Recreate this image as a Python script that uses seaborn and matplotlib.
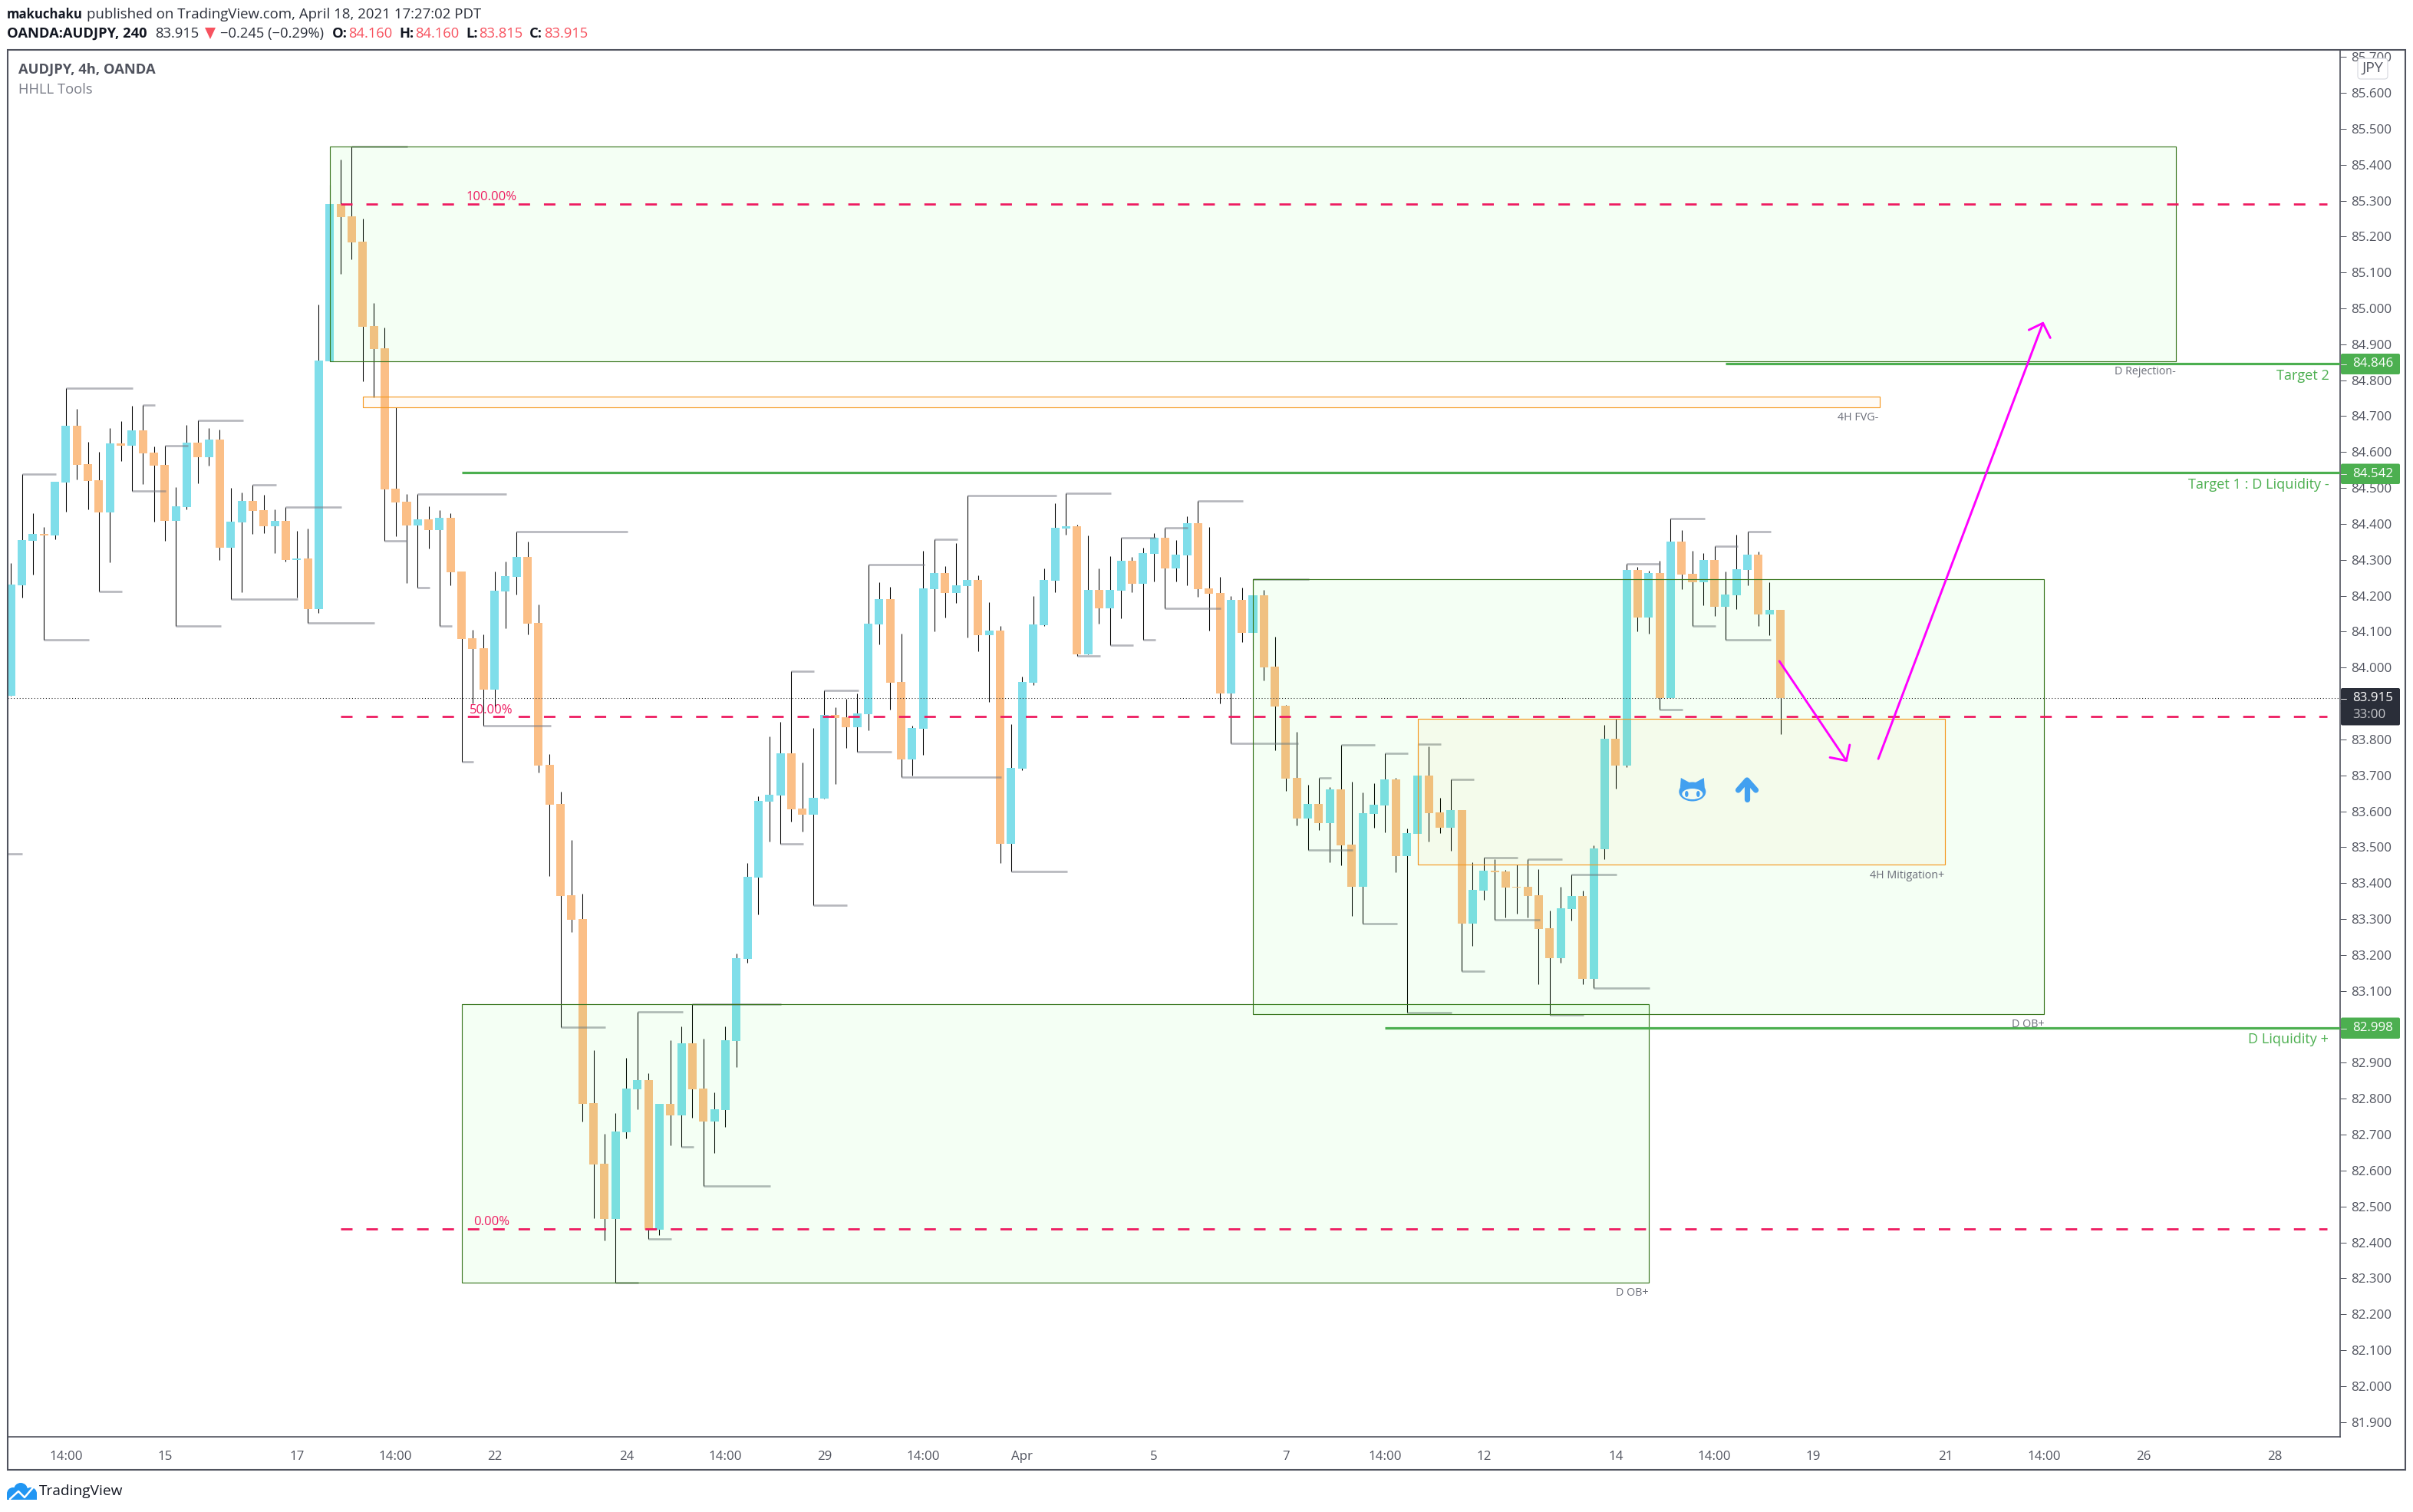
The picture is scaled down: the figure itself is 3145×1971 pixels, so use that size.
import numpy as np
import matplotlib
matplotlib.use('Agg')
import matplotlib.pyplot as plt
from matplotlib.lines import Line2D
from matplotlib.patches import Ellipse, FancyBboxPatch, Polygon, Rectangle
from matplotlib.transforms import Affine2D
import seaborn as sns

# AUDJPY 4h candles
opens = [
    83.921, 84.230, 84.353, 84.372, 84.368, 84.515, 84.673, 84.567, 84.522, 84.432, 84.624, 84.618, 84.660, 84.599,
    84.564, 84.409, 84.447, 84.626, 84.586, 84.635, 84.334, 84.404, 84.464, 84.438, 84.394, 84.409, 84.300, 84.304,
    84.163, 84.853, 85.290, 85.256, 85.186, 84.951, 84.889, 84.498, 84.462, 84.396, 84.413, 84.383, 84.417, 84.268,
    84.082, 84.054, 83.939, 84.212, 84.253, 84.308, 84.125, 83.730, 83.621, 83.367, 83.300, 82.788, 82.619, 82.466,
    82.707, 82.826, 82.851, 82.435, 82.786, 82.753, 82.954, 82.829, 82.736, 82.769, 82.960, 83.189, 83.416, 83.627,
    83.645, 83.762, 83.608, 83.591, 83.636, 83.868, 83.862, 83.835, 83.871, 84.120, 84.191, 83.960, 83.745, 83.830,
    84.219, 84.264, 84.208, 84.227, 84.244, 84.090, 84.103, 83.509, 83.719, 83.958, 84.118, 84.242, 84.387, 84.393,
    84.037, 84.216, 84.165, 84.214, 84.298, 84.233, 84.317, 84.362, 84.277, 84.313, 84.402, 84.221, 84.208, 83.928,
    84.188, 84.097, 84.201, 84.003, 83.894, 83.694, 83.581, 83.621, 83.567, 83.661, 83.508, 83.390, 83.593, 83.617,
    83.689, 83.475, 83.537, 83.700, 83.597, 83.555, 83.603, 83.288, 83.380, 83.434, 83.433, 83.390, 83.390, 83.366,
    83.275, 83.192, 83.327, 83.364, 83.134, 83.495, 83.803, 83.727, 84.272, 84.139, 84.263, 83.915, 84.351, 84.261,
    84.238, 84.300, 84.169, 84.201, 84.272, 84.315, 84.148, 84.160,
]
highs = [
    84.291, 84.538, 84.430, 84.391, 84.517, 84.778, 84.720, 84.628, 84.601, 84.667, 84.686, 84.729, 84.732, 84.616,
    84.618, 84.502, 84.675, 84.688, 84.667, 84.663, 84.500, 84.488, 84.509, 84.481, 84.441, 84.447, 84.381, 84.387,
    85.011, 85.344, 85.414, 85.450, 85.250, 85.015, 84.947, 84.725, 84.483, 84.483, 84.449, 84.438, 84.430, 84.268,
    84.105, 84.092, 84.268, 84.295, 84.379, 84.351, 84.176, 83.759, 83.654, 83.520, 83.371, 82.935, 82.702, 82.760,
    82.914, 83.041, 82.871, 82.786, 82.963, 83.002, 83.064, 82.967, 82.818, 83.002, 83.205, 83.456, 83.642, 83.808,
    83.848, 83.989, 83.736, 83.832, 83.936, 83.890, 83.914, 83.928, 84.287, 84.237, 84.225, 84.094, 83.839, 84.326,
    84.358, 84.282, 84.347, 84.479, 84.257, 84.183, 84.116, 83.843, 83.975, 84.199, 84.277, 84.458, 84.486, 84.397,
    84.368, 84.277, 84.310, 84.362, 84.308, 84.334, 84.374, 84.389, 84.355, 84.421, 84.463, 84.392, 84.253, 84.199,
    84.223, 84.246, 84.216, 84.086, 83.896, 83.821, 83.674, 83.694, 83.668, 83.784, 83.682, 83.653, 83.679, 83.762,
    83.694, 83.552, 83.788, 83.780, 83.638, 83.688, 83.603, 83.458, 83.472, 83.466, 83.436, 83.452, 83.466, 83.439,
    83.324, 83.390, 83.424, 83.380, 83.505, 83.841, 83.857, 84.289, 84.280, 84.270, 84.297, 84.415, 84.383, 84.325,
    84.319, 84.338, 84.268, 84.370, 84.379, 84.323, 84.238, 84.160,
]
lows = [
    83.921, 84.195, 84.259, 84.077, 84.358, 84.434, 84.524, 84.441, 84.211, 84.293, 84.575, 84.491, 84.511, 84.406,
    84.353, 84.115, 84.441, 84.513, 84.562, 84.300, 84.191, 84.210, 84.372, 84.374, 84.319, 84.295, 84.196, 84.124,
    84.152, 84.853, 85.096, 85.137, 84.798, 84.753, 84.353, 84.366, 84.236, 84.223, 84.332, 84.115, 84.229, 83.737,
    83.901, 83.838, 83.887, 84.110, 84.204, 84.092, 83.708, 83.419, 82.999, 83.264, 82.736, 82.468, 82.406, 82.289,
    82.689, 82.771, 82.410, 82.420, 82.671, 82.665, 82.747, 82.557, 82.649, 82.722, 82.889, 83.178, 83.313, 83.516,
    83.509, 83.571, 83.544, 83.338, 83.636, 83.676, 83.776, 83.766, 83.826, 84.065, 83.884, 83.695, 83.699, 83.757,
    84.101, 84.139, 84.180, 84.084, 84.045, 83.905, 83.456, 83.433, 83.714, 83.951, 84.116, 84.210, 84.370, 84.032,
    84.037, 84.122, 84.062, 84.138, 84.210, 84.078, 84.240, 84.165, 84.240, 84.229, 84.197, 84.103, 83.901, 83.790,
    84.071, 84.050, 83.964, 83.770, 83.657, 83.561, 83.492, 83.549, 83.458, 83.450, 83.309, 83.288, 83.555, 83.541,
    83.431, 83.039, 83.451, 83.516, 83.540, 83.490, 83.156, 83.226, 83.354, 83.299, 83.304, 83.316, 83.304, 83.119,
    83.034, 83.179, 83.297, 83.119, 83.108, 83.467, 83.664, 83.722, 84.101, 84.095, 83.883, 83.915, 84.218, 84.117,
    84.174, 84.144, 84.078, 84.163, 84.229, 84.117, 84.090, 83.815,
]
closes = [
    84.231, 84.355, 84.372, 84.368, 84.517, 84.673, 84.565, 84.520, 84.432, 84.624, 84.618, 84.660, 84.596, 84.562,
    84.409, 84.449, 84.626, 84.586, 84.635, 84.334, 84.406, 84.464, 84.436, 84.394, 84.409, 84.300, 84.304, 84.163,
    84.855, 85.290, 85.254, 85.184, 84.949, 84.887, 84.496, 84.460, 84.396, 84.413, 84.383, 84.417, 84.265, 84.080,
    84.052, 83.939, 84.214, 84.255, 84.308, 84.122, 83.727, 83.619, 83.365, 83.298, 82.786, 82.617, 82.466, 82.709,
    82.829, 82.851, 82.435, 82.786, 82.753, 82.954, 82.826, 82.736, 82.771, 82.963, 83.191, 83.418, 83.629, 83.647,
    83.762, 83.606, 83.591, 83.638, 83.868, 83.860, 83.835, 83.873, 84.122, 84.191, 83.958, 83.745, 83.832, 84.221,
    84.264, 84.208, 84.229, 84.244, 84.090, 84.103, 83.509, 83.721, 83.960, 84.120, 84.244, 84.389, 84.393, 84.037,
    84.216, 84.165, 84.216, 84.298, 84.233, 84.319, 84.362, 84.277, 84.315, 84.402, 84.219, 84.205, 83.928, 84.188,
    84.097, 84.201, 84.000, 83.892, 83.691, 83.581, 83.621, 83.567, 83.661, 83.505, 83.390, 83.596, 83.619, 83.689,
    83.475, 83.540, 83.700, 83.596, 83.555, 83.603, 83.288, 83.381, 83.435, 83.431, 83.388, 83.388, 83.364, 83.272,
    83.192, 83.330, 83.364, 83.134, 83.497, 83.803, 83.727, 84.272, 84.139, 84.263, 83.915, 84.351, 84.259, 84.238,
    84.300, 84.169, 84.204, 84.274, 84.315, 84.148, 84.161, 83.915,
]

# swing markers: bar the marker starts at and bar it runs to
pivot_high_start = [1, 5, 12, 14, 17, 22, 25, 31, 37, 46, 57, 62, 71, 74, 78, 84, 87, 96, 101, 105, 108, 113, 119, 121,
                    125, 128, 131, 134, 138, 142, 147, 151, 155, 158]
pivot_high_end = [4, 11, 13, 16, 21, 24, 30, 36, 45, 56, 61, 70, 73, 77, 83, 86, 95, 100, 104, 107, 112, 118, 120, 124,
                  127, 130, 133, 137, 141, 146, 150, 154, 157, 160]
pivot_low_start = [3, 8, 11, 15, 20, 27, 34, 37, 39, 41, 43, 50, 55, 58, 61, 63, 70, 73, 77, 81, 91, 97, 100, 103, 105,
                   111, 118, 123, 127, 132, 135, 140, 144, 150, 153, 156]
pivot_low_end = [7, 10, 14, 19, 26, 33, 36, 38, 40, 42, 49, 54, 57, 60, 62, 69, 72, 76, 80, 90, 96, 99, 102, 104, 110,
                 117, 122, 126, 131, 134, 139, 143, 149, 152, 155, 160]
old_pivot_price = 83.482

# boxes drawn on the chart
green_left = [29, 41, 113]
green_right = [197, 149, 185]
green_top = [85.450, 83.064, 84.246]
green_bottom = [84.853, 82.289, 83.035]
green_names = ['D Rejection-', 'D OB+', 'D OB+']
orange_left = [32, 128]
orange_right = [170, 176]
orange_top = [84.754, 83.857]
orange_bottom = [84.724, 83.451]
orange_names = ['4H FVG-', '4H Mitigation+']

fib_prices = [85.290, 83.863, 82.437]
fib_names = ['100.00%', '50.00%', '0.00%']
target_prices = [84.846, 84.542, 82.998]
target_starts = [156, 41, 125]
target_names = ['Target 2', 'Target 1 : D Liquidity -', 'D Liquidity +']
last_price = 83.915

arrow_down_x = [160.9, 167.0]
arrow_down_y = [84.018, 83.741]
arrow_down_head_x = [165.5, 167.0, 167.3]
arrow_down_head_y = [83.750, 83.741, 83.785]
arrow_up_x = [169.9, 184.88]
arrow_up_y = [83.746, 84.959]
arrow_up_head_x = [183.6, 184.88, 185.55]
arrow_up_head_y = [84.940, 84.959, 84.918]

price_ticks = np.arange(81.9, 85.75, 0.1)
hidden_price_labels = [83.9, 83.0]  # these sit behind the price tags
time_positions = [5, 14, 26, 35, 44, 56, 65, 74, 83, 92, 104, 116, 125, 134, 146, 155, 164, 176, 185, 194, 206]
time_labels = ['14:00', '15', '17', '14:00', '22', '24', '14:00', '29', '14:00', 'Apr', '5', '7', '14:00', '12', '14',
               '14:00', '19', '21', '14:00', '26', '28']

W, H = 3145, 1971
UP = '#80DEEA'
DOWN = '#FBBF87'
BOX_GREEN = '#38761D'
LINE_GREEN = '#4CAF50'
BOX_ORANGE = '#F4981F'
FIB = '#EE1B60'
MAGENTA = '#FF00FF'
INK = '#50535E'
RED = '#F7525F'
ICON = '#42A0F0'

sns.set_theme(style='white')
plt.rcParams['font.family'] = ['Open Sans', 'DejaVu Sans']

fig = plt.figure(figsize=(W / 200, H / 200), dpi=200, facecolor='white')
ax = fig.add_axes([10 / W, 1 - 1873 / H, (3050.3 - 10) / W, (1873 - 65) / H])
pix = Affine2D().scale(1, -1).translate(0, H)

bars = np.arange(len(opens))
o = np.array(opens)
c = np.array(closes)
is_up = c >= o

ax.vlines(bars, lows, highs, color='black', lw=0.38, zorder=2)
ax.bar(bars[is_up], (c - o)[is_up], bottom=o[is_up], width=0.77, color=UP, lw=0, zorder=3)
ax.bar(bars[~is_up], (o - c)[~is_up], bottom=c[~is_up], width=0.77, color=DOWN, lw=0, zorder=3)

ax.hlines([highs[s] for s in pivot_high_start], pivot_high_start, np.array(pivot_high_end) + 0.1,
          color='#787B86', alpha=0.55, lw=0.95, zorder=4)
ax.hlines([lows[s] for s in pivot_low_start], pivot_low_start, np.array(pivot_low_end) + 0.1,
          color='#787B86', alpha=0.55, lw=0.95, zorder=4)
ax.hlines(old_pivot_price, -0.3, 1, color='#787B86', alpha=0.55, lw=0.95, zorder=4)

for x0, x1, y1, y0, name in zip(green_left, green_right, green_top, green_bottom, green_names):
    ax.add_patch(Rectangle((x0, y0), x1 - x0, y1 - y0, fc=(0, 1, 0, 0.045), ec=BOX_GREEN, lw=0.42, zorder=5))
    ax.annotate(name, (x1, y0), xytext=(0, -2.2), textcoords='offset points', ha='right', va='top',
                fontsize=5.15, color='#6A6D78', zorder=8)
for x0, x1, y1, y0, name in zip(orange_left, orange_right, orange_top, orange_bottom, orange_names):
    ax.add_patch(Rectangle((x0, y0), x1 - x0, y1 - y0, fc=(1, 0.6, 0, 0.035), ec=BOX_ORANGE, lw=0.42, zorder=5))
    ax.annotate(name, (x1 - 0.1, y0), xytext=(0, -2.2), textcoords='offset points', ha='right', va='top',
                fontsize=5.15, color='#6A6D78', zorder=8)

ax.axhline(last_price, color='#222222', lw=0.38, ls=(0, (1, 2.6)), zorder=6)
ax.hlines(fib_prices, 30, 210.7, color=FIB, lw=1.0, ls=(0, (5.4, 6.5)), zorder=6)
for price, name in zip(fib_prices, fib_names):
    ax.annotate(name, (43.7, price), xytext=(0, 3.2), textcoords='offset points', ha='center', va='center',
                fontsize=6.0, color=FIB, zorder=8)

ax.hlines(target_prices, target_starts, 211.94, color=LINE_GREEN, lw=1.15, zorder=6)
for price, name in zip(target_prices, target_names):
    ax.annotate(name, (210.9, price), xytext=(0, -2.4), textcoords='offset points', ha='right', va='top',
                fontsize=6.55, color=LINE_GREEN, zorder=8)

for xs, ys in [(arrow_down_x, arrow_down_y), (arrow_down_head_x, arrow_down_head_y),
               (arrow_up_x, arrow_up_y), (arrow_up_head_x, arrow_up_head_y)]:
    sns.lineplot(x=xs, y=ys, ax=ax, color=MAGENTA, lw=1.05, sort=False, estimator=None, zorder=7,
                 solid_capstyle='round', legend=False)

ax.set_xlim(-0.3, 211.94)
ax.set_ylim(81.8589, 85.7196)
ax.yaxis.tick_right()
ax.set_yticks(price_ticks)
ax.set_yticklabels(['' if np.isclose(hidden_price_labels, v).any() else f'{v:.3f}' for v in price_ticks])
ax.set_xticks(time_positions)
ax.set_xticklabels(time_labels)
ax.tick_params(axis='y', length=2.9, width=0.36, color=INK, labelcolor=INK, labelsize=6.1, pad=2.0)
ax.tick_params(axis='x', length=2.6, width=0.36, color=INK, labelcolor=INK, labelsize=6.1, pad=3.8)
ax.set_xlabel('')
ax.set_ylabel('')
for side in ['top', 'left']:
    ax.spines[side].set_visible(False)
for side in ['right', 'bottom']:
    ax.spines[side].set_color(INK)
    ax.spines[side].set_linewidth(0.6)


def put(x, y, s, **kw):
    kw.setdefault('va', 'center')
    kw.setdefault('fontsize', 6.6)
    kw.setdefault('color', '#131722')
    fig.text(x, y, s, transform=pix, zorder=12, **kw)


def shape(artist):
    fig.add_artist(artist)


# outer frame
shape(Rectangle((10, 65), 3125, 1851, fc='none', ec=INK, lw=0.75, transform=pix, zorder=9))

# header
put(9, 19, 'makuchaku', fontweight='bold', fontsize=6.05)
put(113, 19, 'published on TradingView.com, April 18, 2021 17:27:02 PDT', color='#2A2E39', fontsize=6.72)
put(9, 44, 'OANDA:AUDJPY, 240', fontweight='bold')
put(202.5, 44, '83.915', color='#2A2E39')
shape(Polygon([(267, 36), (281, 36), (274, 51)], fc=RED, ec='none', transform=pix, zorder=12))
put(287, 44, '\u22120.245 (\u22120.29%)', color='#2A2E39')
for x, s in [(432.6, 'O:'), (520, 'H:'), (607.6, 'L:'), (690, 'C:')]:
    put(x, 44, s, fontweight='bold')
for x, s in [(454, '84.160'), (541, '84.160'), (624.5, '83.815'), (709, '83.915')]:
    put(x, 44, s, color=RED)
put(23.5, 90.5, 'AUDJPY, 4h, OANDA', fontweight='bold', color=INK)
put(23.5, 116.5, 'HHLL Tools', color='#787B86')

# price tags on the scale
for price, top, bottom, color in [(84.846, 461, 488, LINE_GREEN), (84.542, 604.5, 631, LINE_GREEN),
                                  (82.998, 1326.5, 1354, LINE_GREEN), (83.915, 897, 945.5, '#2A2E39')]:
    shape(FancyBboxPatch((3051, top), 77, bottom - top, boxstyle='round,pad=0,rounding_size=2',
                         fc=color, ec='none', transform=pix, zorder=10))
put(3066, 474.5, '84.846', color='white', fontsize=6.1)
put(3066, 617.5, '84.542', color='white', fontsize=6.1)
put(3066, 1340.5, '82.998', color='white', fontsize=6.1)
put(3066, 910.5, '83.915', color='white', fontsize=6.1)
put(3066, 932, '33:00', color='#C8C9CD', fontsize=6.1)
for y in [474.5, 617.5, 1340.5, 910.5]:
    shape(Line2D([3051, 3058], [y, y], color='#E8E8E8', lw=0.36, transform=pix, zorder=11))

# currency button
shape(FancyBboxPatch((3073, 76), 39, 27, boxstyle='round,pad=0,rounding_size=4',
                     fc='white', ec='#D5D7DE', lw=0.4, transform=pix, zorder=10))
put(3092.5, 89, 'JPY', ha='center', color=INK, fontsize=7.0)

# emoji style icons inside the mitigation box
cat_x, cat_y = 2205.8, 1029
shape(Ellipse((cat_x, cat_y + 3), 35, 25, fc=ICON, ec='none', transform=pix, zorder=11))
shape(Polygon([(cat_x - 16, cat_y - 2), (cat_x - 15, cat_y - 15), (cat_x - 4, cat_y - 9)],
              fc=ICON, ec='none', transform=pix, zorder=11))
shape(Polygon([(cat_x + 16, cat_y - 2), (cat_x + 15, cat_y - 15), (cat_x + 4, cat_y - 9)],
              fc=ICON, ec='none', transform=pix, zorder=11))
shape(Ellipse((cat_x, cat_y + 6), 27, 14, fc='#F4FBEF', ec='none', transform=pix, zorder=12))
for dx in [-7.5, 7.5]:
    shape(Ellipse((cat_x + dx, cat_y + 6), 4.5, 8, fc=ICON, ec='none', transform=pix, zorder=13))
shape(Line2D([2277, 2277], [1042, 1018], color=ICON, lw=2.6, solid_capstyle='round', transform=pix, zorder=11))
shape(Line2D([2265.5, 2277, 2288.5], [1030, 1017, 1030], color=ICON, lw=2.6, solid_capstyle='round',
             solid_joinstyle='round', transform=pix, zorder=11))

# TradingView mark
LOGO = '#2196F3'
for cx, cy, r in [(17, 1947, 8), (27, 1942, 9), (40, 1947, 8)]:
    shape(Ellipse((cx, cy), 2 * r, 2 * r, fc=LOGO, ec='none', transform=pix, zorder=11))
shape(Rectangle((9, 1947), 39, 8, fc=LOGO, ec='none', transform=pix, zorder=11))
shape(Line2D([13, 24, 32, 44], [1954, 1944, 1952, 1938], color='white', lw=0.9, transform=pix, zorder=12))
put(51, 1944, 'TradingView', color='#131722', fontsize=6.9)

fig.savefig('out.png', dpi=200, facecolor='white')
